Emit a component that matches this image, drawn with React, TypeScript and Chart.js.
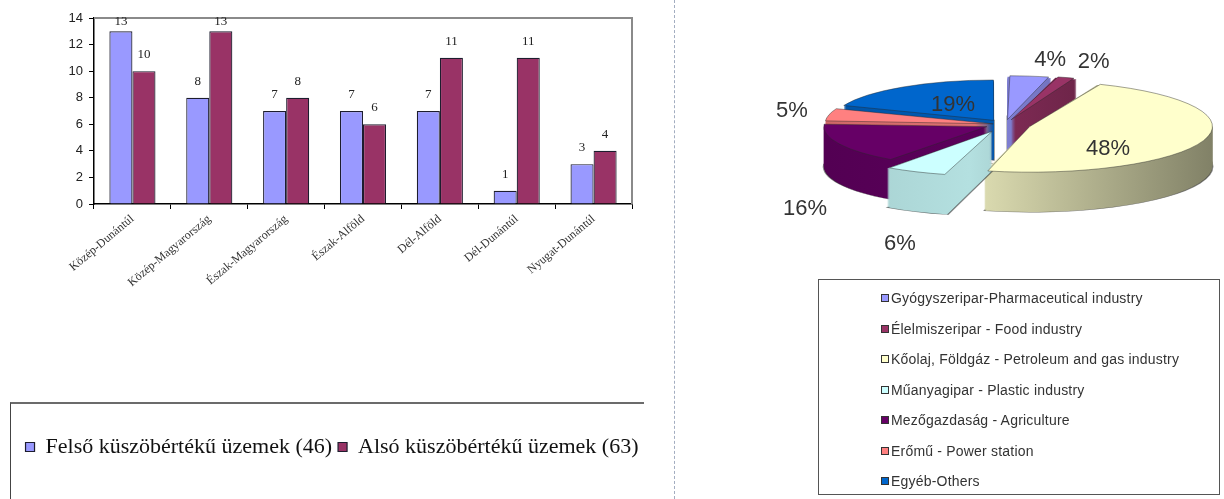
import React, { useEffect, useRef } from "react";
import { Chart, registerables } from "chart.js";

Chart.register(...registerables);

// ---------- data: bar chart ----------
const regions = [
  "Közép-Dunántúl",
  "Közép-Magyarország",
  "Észak-Magyarország",
  "Észak-Alföld",
  "Dél-Alföld",
  "Dél-Dunántúl",
  "Nyugat-Dunántúl",
];
const upperTierPlants = [13, 8, 7, 7, 7, 1, 3];
const lowerTierPlants = [10, 13, 8, 6, 11, 11, 4];
const upperTierLabel = "Felső küszöbértékű üzemek (46)";
const lowerTierLabel = "Alsó küszöbértékű üzemek (63)";
const yAxisMin = 0;
const yAxisMax = 14;
const yAxisStep = 2;

// ---------- data: pie chart ----------
const sectorLabels = [
  "Gyógyszeripar-Pharmaceutical industry",
  "Élelmiszeripar - Food industry",
  "Kőolaj, Földgáz - Petroleum and gas industry",
  "Műanyagipar - Plastic industry",
  "Mezőgazdaság - Agriculture",
  "Erőmű - Power station",
  "Egyéb-Others",
];
const sectorShares = [4, 2, 48, 6, 16, 5, 19];
const sectorColors = ["#9999FF", "#993366", "#FFFFCC", "#CCFFFF", "#660066", "#FF8080", "#0066CC"];
const sectorExplode = [80, 80, 104, 120, 80, 48, 80];

const SERIF = '"Liberation Serif", "Times New Roman", serif';
const SANS = '"Liberation Sans", Arial, sans-serif';

// ---------- pie 3D helpers ----------
const SQUASH = 0.25;
const DEPTH = 40;

function shade(hex: string, f: number) {
  const n = parseInt(hex.slice(1), 16);
  const r = Math.round(((n >> 16) & 255) * f);
  const g = Math.round(((n >> 8) & 255) * f);
  const b = Math.round((n & 255) * f);
  return `rgb(${r},${g},${b})`;
}

function arcGeom(arc: any) {
  const p = arc.getProps(["x", "y", "startAngle", "endAngle", "outerRadius", "circumference"], true);
  const off = (arc.options.offset || 0) / 4;
  const mid = (p.startAngle + p.endAngle) / 2;
  const fix = 1 - Math.sin(Math.min(Math.PI, p.circumference || 0));
  return {
    cx: p.x,
    cy: p.y,
    x: p.x + Math.cos(mid) * off,
    y: p.y + Math.sin(mid) * off,
    r: p.outerRadius + off * fix,
    s: p.startAngle,
    e: p.endAngle,
    mid,
  };
}

const pie3d = {
  id: "pie3d",
  beforeDatasetsDraw(chart: any) {
    const ctx = chart.ctx;
    const meta = chart.getDatasetMeta(0);
    if (!meta.data.length) return;
    const geoms = meta.data.map(arcGeom);
    const order = geoms.map((_: any, i: number) => i).sort(
      (a: number, b: number) => Math.sin(geoms[a].mid) - Math.sin(geoms[b].mid)
    );
    for (const i of order) {
      const g = geoms[i];
      const c = sectorColors[i];
      const grad = ctx.createLinearGradient(g.cx - 200, 0, g.cx + 210, 0);
      grad.addColorStop(0, shade(c, 0.8));
      grad.addColorStop(0.4, shade(c, 0.88));
      grad.addColorStop(1, shade(c, 0.5));
      for (let d = DEPTH; d >= 1; d--) {
        ctx.save();
        ctx.translate(0, d);
        ctx.translate(g.cx, g.cy);
        ctx.scale(1, SQUASH);
        ctx.translate(-g.cx, -g.cy);
        ctx.beginPath();
        ctx.moveTo(g.x, g.y);
        ctx.arc(g.x, g.y, g.r, g.s, g.e);
        ctx.closePath();
        ctx.fillStyle = grad;
        ctx.fill();
        if (d === DEPTH) {
          ctx.lineWidth = 2;
          ctx.strokeStyle = "rgba(40,40,40,0.55)";
          ctx.stroke();
        }
        ctx.restore();
      }
    }
    const g0 = geoms[0];
    ctx.save();
    ctx.translate(g0.cx, g0.cy);
    ctx.scale(1, SQUASH);
    ctx.translate(-g0.cx, -g0.cy);
  },
  afterDatasetsDraw(chart: any) {
    const ctx = chart.ctx;
    const meta = chart.getDatasetMeta(0);
    if (!meta.data.length) return;
    ctx.restore();
    const geoms = meta.data.map(arcGeom);
    const total = sectorShares.reduce((a, b) => a + b, 0);
    ctx.save();
    ctx.font = `22px ${SANS}`;
    ctx.fillStyle = "#333";
    ctx.textBaseline = "middle";
    geoms.forEach((g: any, i: number) => {
      const pct = Math.round((sectorShares[i] / total) * 100);
      const cos = Math.cos(g.mid);
      const sin = Math.sin(g.mid);
      let x: number;
      let y: number;
      ctx.textAlign = "center";
      if (pct >= 19) {
        x = g.x + cos * g.r * 0.45;
        y = g.cy + (g.y - g.cy + sin * g.r * 0.45) * SQUASH + (sin > 0 ? DEPTH * 0.4 : 0);
      } else {
        x = g.x + cos * (g.r + 38);
        y = g.cy + (g.y - g.cy) * SQUASH + sin * (g.r * SQUASH + 16) + (sin > 0 ? DEPTH + 18 : 0);
        if (cos > 0.05) ctx.textAlign = "left";
      }
      ctx.fillText(pct + "%", x, y);
    });
    ctx.restore();
  },
};

// ---------- bar decorations ----------
const barDecor = {
  id: "barDecor",
  afterLayout(chart: any) {
    if (chart.legend) {
      chart.legend.left += 16;
      chart.legend.right += 16;
    }
  },
  afterDatasetsDraw(chart: any) {
    const { ctx, chartArea: a } = chart;
    ctx.save();
    ctx.strokeStyle = "#8a8a8a";
    ctx.lineWidth = 2;
    ctx.beginPath();
    ctx.moveTo(a.left, a.top);
    ctx.lineTo(a.right, a.top);
    ctx.lineTo(a.right, a.bottom);
    ctx.stroke();
    ctx.font = `13px ${SERIF}`;
    ctx.fillStyle = "#222";
    ctx.textAlign = "center";
    ctx.textBaseline = "alphabetic";
    chart.data.datasets.forEach((ds: any, di: number) => {
      const meta = chart.getDatasetMeta(di);
      meta.data.forEach((bar: any, i: number) => {
        const y = Math.max(bar.y - 13, a.top + 7);
        ctx.fillText(String(ds.data[i]), bar.x, y);
      });
    });
    ctx.restore();
  },
};

export default function App() {
  const barRef = useRef<HTMLCanvasElement | null>(null);
  const pieRef = useRef<HTMLCanvasElement | null>(null);

  useEffect(() => {
    const bar = new Chart(barRef.current as HTMLCanvasElement, {
      type: "bar",
      data: {
        labels: regions,
        datasets: [
          {
            label: upperTierLabel,
            data: upperTierPlants,
            backgroundColor: "#9999FF",
            borderColor: "#1d1d2e",
            borderWidth: 1.2,
            categoryPercentage: 0.6,
            barPercentage: 1,
          },
          {
            label: lowerTierLabel,
            data: lowerTierPlants,
            backgroundColor: "#993366",
            borderColor: "#1d1d2e",
            borderWidth: 1.2,
            categoryPercentage: 0.6,
            barPercentage: 1,
          },
        ],
      },
      options: {
        animation: false,
        responsive: false,
        events: [],
        layout: { padding: { top: 18, right: 45, bottom: 31, left: 0 } },
        plugins: {
          legend: {
            position: "bottom",
            labels: {
              boxWidth: 9,
              boxHeight: 9,
              padding: 6,
              color: "#111",
              font: { family: SERIF, size: 22 },
            },
          },
          tooltip: { enabled: false },
        },
        scales: {
          x: {
            grid: { drawOnChartArea: false, drawTicks: true, tickLength: 5, color: "#000", offset: true },
            border: { color: "#000", width: 1.5 },
            ticks: {
              minRotation: 40,
              maxRotation: 40,
              autoSkip: false,
              padding: 3,
              color: "#333",
              font: { family: SERIF, size: 12 },
            },
            afterFit: (s: any) => {
              s.height = 226;
            },
          },
          y: {
            min: yAxisMin,
            max: yAxisMax,
            ticks: { stepSize: yAxisStep, padding: 6, color: "#222", font: { family: SANS, size: 13 } },
            grid: { drawOnChartArea: false, tickLength: 5, color: "#000" },
            border: { color: "#000", width: 1.5 },
            afterFit: (s: any) => {
              s.width = 94;
            },
          },
        },
      } as any,
      plugins: [barDecor],
    });

    const pie = new Chart(pieRef.current as HTMLCanvasElement, {
      type: "pie",
      data: {
        labels: sectorLabels,
        datasets: [
          {
            data: sectorShares,
            backgroundColor: sectorColors,
            borderColor: "rgba(40,40,40,0.7)",
            borderWidth: 1,
            offset: sectorExplode,
            radius: 160,
            clip: false,
          } as any,
        ],
      },
      options: {
        animation: false,
        responsive: false,
        events: [],
        layout: { padding: { left: 106, bottom: 31 } },
        plugins: { legend: { display: false }, tooltip: { enabled: false } },
      } as any,
      plugins: [pie3d],
    });

    return () => {
      bar.destroy();
      pie.destroy();
    };
  }, []);

  return (
    <div
      style={{
        position: "absolute",
        left: 0,
        top: 0,
        width: 1224,
        height: 499,
        overflow: "hidden",
        background: "#fff",
      }}
    >
      <div
        style={{
          position: "absolute",
          left: 10,
          top: 402,
          width: 633,
          height: 120,
          borderTop: "2px solid #6b6b6b",
          borderLeft: "1px solid #444",
        }}
      />
      <canvas ref={barRef} width={677} height={499} style={{ position: "absolute", left: 0, top: 0 }} />
      <div
        style={{
          position: "absolute",
          left: 674,
          top: 0,
          height: 499,
          borderLeft: "1px dashed #a3adc0",
        }}
      />
      <canvas ref={pieRef} width={544} height={280} style={{ position: "absolute", left: 680, top: 0 }} />
      <div
        style={{
          position: "absolute",
          left: 818,
          top: 279,
          width: 402,
          height: 216,
          border: "1px solid #555",
          paddingTop: 3,
          boxSizing: "border-box",
        }}
      >
        {sectorLabels.map((lab, i) => (
          <div
            key={lab}
            style={{
              height: 30.5,
              display: "flex",
              alignItems: "center",
              paddingLeft: 62,
              fontFamily: SANS,
              fontSize: 14,
              letterSpacing: 0.2,
              color: "#333",
              whiteSpace: "nowrap",
            }}
          >
            <span
              style={{
                display: "inline-block",
                width: 6,
                height: 6,
                background: sectorColors[i],
                border: "1px solid #333",
                marginRight: 2,
              }}
            />
            {lab}
          </div>
        ))}
      </div>
    </div>
  );
}
